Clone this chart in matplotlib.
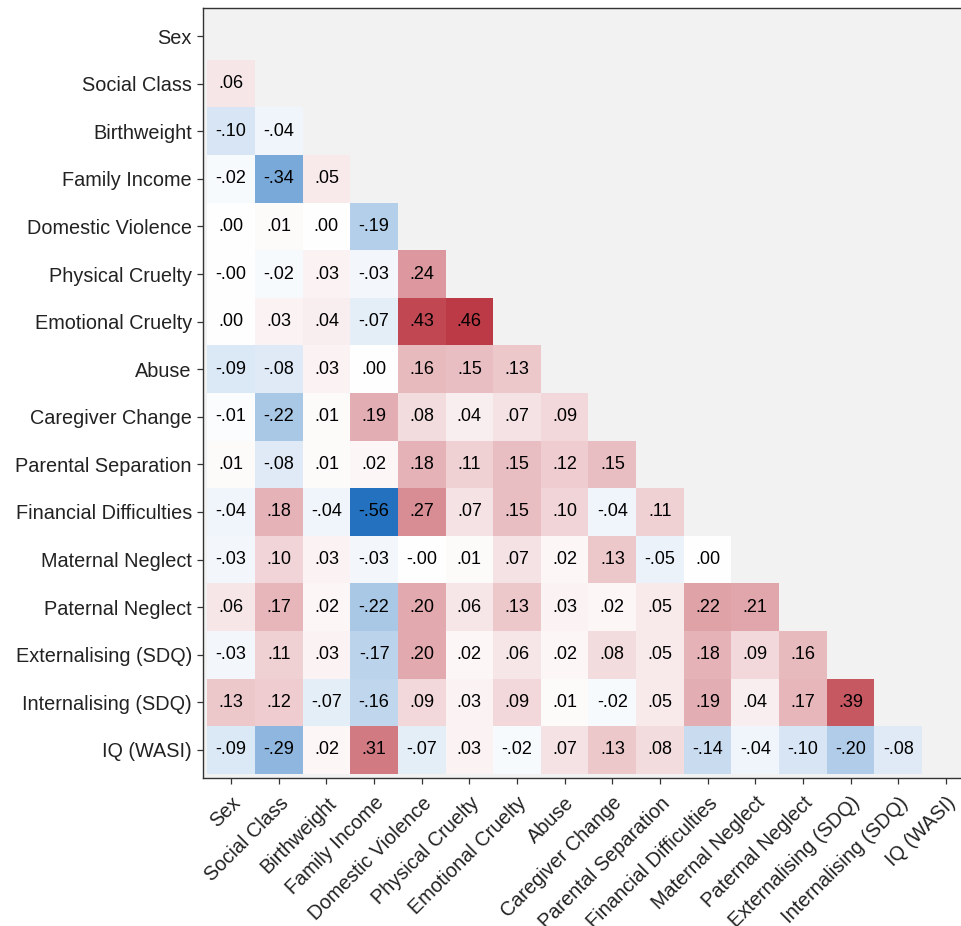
import numpy as np
import matplotlib.pyplot as plt
from matplotlib.colors import LinearSegmentedColormap, Normalize

plt.rcParams['font.family'] = ['Liberation Sans', 'DejaVu Sans']

variables = ["Sex", "Social Class", "Birthweight", "Family Income",
             "Domestic Violence", "Physical Cruelty", "Emotional Cruelty",
             "Abuse", "Caregiver Change", "Parental Separation",
             "Financial Difficulties", "Maternal Neglect", "Paternal Neglect",
             "Externalising (SDQ)", "Internalising (SDQ)", "IQ (WASI)"]

# lower triangle, row by row (row i holds correlations with variables 0..i-1)
lower = [
    [],
    [.06],
    [-.10, -.04],
    [-.02, -.34, .05],
    [.00, .01, .00, -.19],
    [-0.0, -.02, .03, -.03, .24],
    [.00, .03, .04, -.07, .43, .46],
    [-.09, -.08, .03, .00, .16, .15, .13],
    [-.01, -.22, .01, .19, .08, .04, .07, .09],
    [.01, -.08, .01, .02, .18, .11, .15, .12, .15],
    [-.04, .18, -.04, -.56, .27, .07, .15, .10, -.04, .11],
    [-.03, .10, .03, -.03, -0.0, .01, .07, .02, .13, -.05, .00],
    [.06, .17, .02, -.22, .20, .06, .13, .03, .02, .05, .22, .21],
    [-.03, .11, .03, -.17, .20, .02, .06, .02, .08, .05, .18, .09, .16],
    [.13, .12, -.07, -.16, .09, .03, .09, .01, -.02, .05, .19, .04, .17, .39],
    [-.09, -.29, .02, .31, -.07, .03, -.02, .07, .13, .08, -.14, -.04, -.10, -.20, -.08],
]

n = len(variables)
cmap = LinearSegmentedColormap.from_list(
    "corr", ["#1467bb", "#ffffff", "#a8000f"])
norm = Normalize(vmin=-0.6, vmax=0.6)


def fmt(v):
    return f"{v:.2f}".replace("0.", ".", 1)


fig = plt.figure(figsize=(9.62, 9.26), dpi=100)
W, H = 962, 926
left, right, top, bottom = 203, 974, 8, 778
ax = fig.add_axes([left / W, 1 - bottom / H, (right - left) / W, (bottom - top) / H])
ax.set_facecolor("#f2f2f2")

for i, row in enumerate(lower):
    for j, v in enumerate(row):
        ax.add_patch(plt.Rectangle((j - 0.5, i - 0.5), 1, 1,
                                   facecolor=cmap(norm(v)), edgecolor="none"))
        ax.text(j, i, fmt(v), ha="center", va="center", fontsize=13, color="black")

pad = 0.09
ax.set_xlim(-0.5 - pad, n - 0.5 + pad)
ax.set_ylim(n - 0.5 + pad, -0.5 - pad)

ax.set_xticks(range(n))
ax.set_yticks(range(n))
ax.set_xticklabels(variables, rotation=45, ha="right", rotation_mode="anchor")
ax.set_yticklabels(variables)
ax.tick_params(axis="both", labelsize=14.3, colors="#333333", length=4,
               width=0.9, labelcolor="#222222", pad=4)
ax.tick_params(axis="x", pad=7)
for s in ax.spines.values():
    s.set_color("#333333")
    s.set_linewidth(1.0)

fig.savefig("out.png", dpi=100)
